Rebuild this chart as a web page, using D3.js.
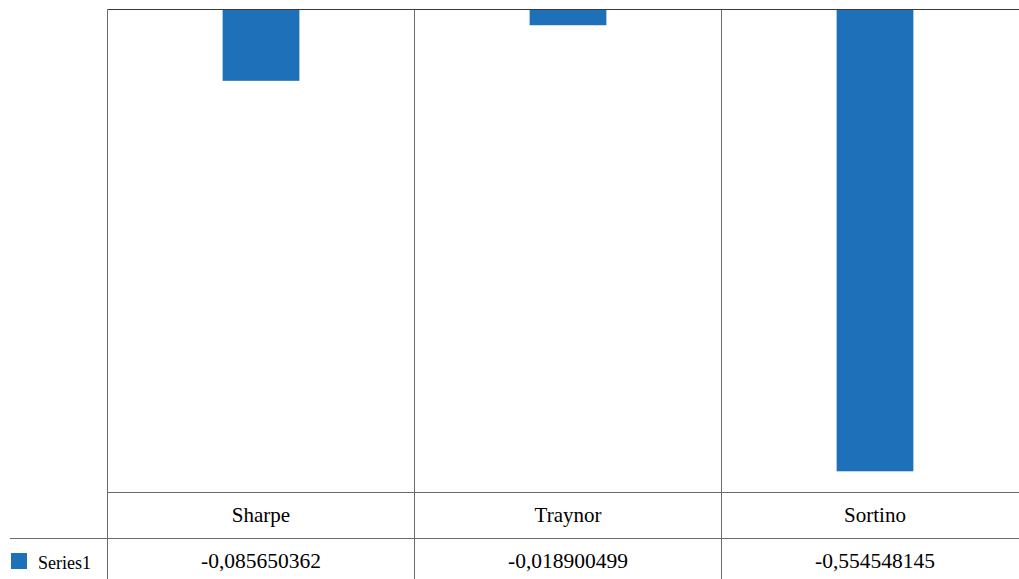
<!DOCTYPE html>
<html>
<head>
<meta charset="utf-8">
<script src="https://cdn.jsdelivr.net/npm/d3@7"></script>
<style>
  html, body { margin: 0; padding: 0; background: #fff; overflow: hidden; }
  svg { display: block; }
  text { font-family: "Liberation Serif", "Times New Roman", serif; fill: #000; }
</style>
</head>
<body>
<svg id="chart" width="1019" height="579"></svg>
<script>
// Risk-adjusted performance ratios
const categories = ["Sharpe", "Traynor", "Sortino"];
const seriesName = "Series1";
const values = [-0.085650362, -0.018900499, -0.554548145];
const valueLabels = ["-0,085650362", "-0,018900499", "-0,554548145"];

const W = 1019, H = 579;
// plot area runs past the right edge of the page
const plot = { left: 107.5, right: 1028.5, top: 9.5, bottom: 492.5 };
const rowH = 46;
const svg = d3.select("#chart");

const x = d3.scaleBand()
  .domain(categories)
  .range([plot.left, plot.right])
  .paddingInner(0).paddingOuter(0);

const y = d3.scaleLinear()
  .domain([0, -0.58])
  .range([plot.top, plot.bottom]);

const barW = x.bandwidth() * 0.25;
const barColor = "#1e70b8";

// bars hanging from the zero line
svg.append("g").selectAll("rect")
  .data(values)
  .join("rect")
  .attr("x", (d, i) => x(categories[i]) + (x.bandwidth() - barW) / 2)
  .attr("y", d => y(0))
  .attr("width", barW)
  .attr("height", d => y(d) - y(0))
  .attr("fill", barColor);

const lineColor = "#6b6b6b";
const g = svg.append("g").attr("fill", "none");

// zero line along the top
g.append("line")
  .attr("x1", plot.left).attr("x2", plot.right)
  .attr("y1", y(0)).attr("y2", y(0))
  .attr("stroke", "#3a3a3a").attr("stroke-width", 1.2);

// plot bottom / table header top
g.append("line")
  .attr("x1", plot.left).attr("x2", plot.right)
  .attr("y1", plot.bottom).attr("y2", plot.bottom)
  .attr("stroke", lineColor);

// row separator between header and values
g.append("line")
  .attr("x1", 10).attr("x2", plot.right)
  .attr("y1", plot.bottom + rowH).attr("y2", plot.bottom + rowH)
  .attr("stroke", lineColor);

// vertical category dividers through plot and table
const dividers = [plot.left].concat(categories.slice(1).map(c => x(c)));
g.selectAll(".div")
  .data(dividers)
  .join("line")
  .attr("x1", d => Math.round(d) - 0.5).attr("x2", d => Math.round(d) - 0.5)
  .attr("y1", plot.top).attr("y2", H)
  .attr("stroke", lineColor);

// category labels
svg.append("g").selectAll("text")
  .data(categories)
  .join("text")
  .attr("x", d => x(d) + x.bandwidth() / 2)
  .attr("y", plot.bottom + 29.5)
  .attr("text-anchor", "middle")
  .attr("font-size", "21px")
  .text(d => d);

// value row
svg.append("g").selectAll("text")
  .data(valueLabels)
  .join("text")
  .attr("x", (d, i) => x(categories[i]) + x.bandwidth() / 2)
  .attr("y", plot.bottom + rowH + 29)
  .attr("text-anchor", "middle")
  .attr("font-size", "21.5px")
  .text(d => d);

// legend key in the table
svg.append("rect")
  .attr("x", 11).attr("y", 553)
  .attr("width", 16).attr("height", 16)
  .attr("fill", barColor);
svg.append("text")
  .attr("x", 38).attr("y", 569)
  .attr("font-size", "18px")
  .text(seriesName);
</script>
</body>
</html>
